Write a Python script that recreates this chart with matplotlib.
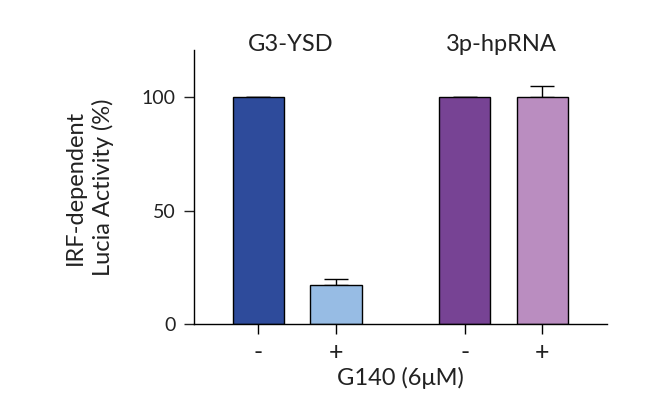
import matplotlib
matplotlib.use("Agg")
import matplotlib.pyplot as plt

plt.rcParams['font.family'] = ['Lato', 'DejaVu Sans']

groups = ["G3-YSD", "3p-hpRNA"]
tick_labels = ["-", "+", "-", "+"]
values = [100, 17, 100, 100]
errors = [0, 3, 0, 5]
colors = ["#2E4B9B", "#97BCE4", "#774394", "#BA8DC0"]
positions = [0, 1, 2.66, 3.66]

fig = plt.figure(figsize=(6.57, 3.96), dpi=100)
ax = fig.add_axes([0.2953, 0.1818, 0.6286, 0.6919])

ax.bar(positions, values, width=0.66, color=colors, edgecolor="black", linewidth=1.0, zorder=2)
lower = [0] * len(errors)
ax.errorbar(positions, values, yerr=[lower, errors], fmt="none", ecolor="black",
            elinewidth=1.0, capsize=8.3, capthick=1.0, zorder=1)

ax.set_xlim(-0.832, 4.497)
ax.set_ylim(0, 120.7)
ax.set_yticks([0, 50, 100])
ax.set_xticks(positions)
ax.set_xticklabels(tick_labels, fontsize=18)
ax.tick_params(axis="y", labelsize=14, length=7, width=1, pad=6, colors="#222222", labelcolor="#222222")
ax.tick_params(axis="x", length=7, width=1, pad=5, labelcolor="#222222")

for s in ["top", "right"]:
    ax.spines[s].set_visible(False)
for s in ["left", "bottom"]:
    ax.spines[s].set_linewidth(1.0)

ax.set_ylabel("IRF-dependent\nLucia Activity (%)", fontsize=17, labelpad=20, color="#222222",
              linespacing=1.35)
ax.set_xlabel("G140 (6μM)", fontsize=17, labelpad=2, color="#222222")

centers = [(positions[0] + positions[1]) / 2 - 0.08, (positions[2] + positions[3]) / 2 - 0.03]
for g, c in zip(groups, centers):
    ax.text(c, 1.02, g, transform=ax.get_xaxis_transform(), ha="center", va="center",
            fontsize=17, color="#222222")

fig.savefig("out.png", dpi=100)
